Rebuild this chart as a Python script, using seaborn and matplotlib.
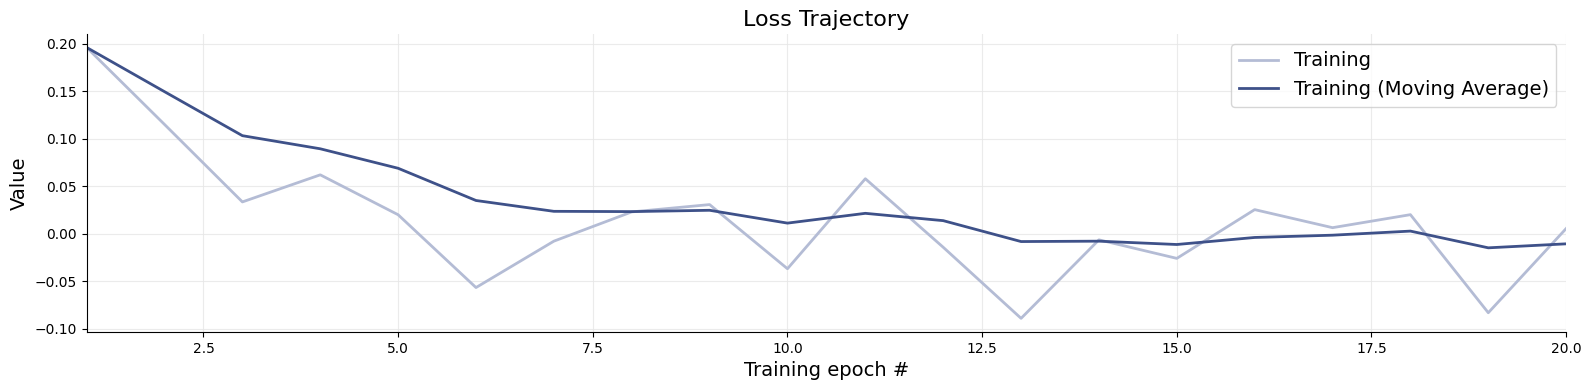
import matplotlib
matplotlib.use("Agg")
import matplotlib.pyplot as plt
import seaborn as sns
import pandas as pd

epochs = list(range(1, 21))
training = [0.196, 0.115, 0.0335, 0.062, 0.020, -0.0566, -0.0078, 0.023, 0.0307, -0.0368,
            0.0579, -0.0142, -0.089, -0.0064, -0.0259, 0.0254, 0.0064, 0.0201, -0.0831, 0.0055]
moving_avg = [0.196, 0.1495, 0.1032, 0.0894, 0.0689, 0.035, 0.0236, 0.0233, 0.0247, 0.0112,
              0.0215, 0.0138, -0.0082, -0.0078, -0.0113, -0.0039, -0.0015, 0.0028, -0.0148, -0.0106]

plt.rcParams['font.family'] = ['DejaVu Sans']

fig = plt.figure(figsize=(15.9, 3.9), dpi=100)
ax = fig.add_axes([0.0545, 0.149, 0.9305, 0.764])

df = pd.DataFrame({"epoch": epochs, "Training": training, "Training (Moving Average)": moving_avg})
sns.lineplot(data=df, x="epoch", y="Training", ax=ax, color="#b4bcd5", linewidth=2, label="Training")
sns.lineplot(data=df, x="epoch", y="Training (Moving Average)", ax=ax, color="#3e5189", linewidth=2,
             label="Training (Moving Average)")

ax.set_xlim(1, 20)
ax.grid(True, color="#e6e6e6", linewidth=0.8, alpha=0.8)
ax.set_axisbelow(True)
sns.despine(ax=ax)
ax.set_title("Loss Trajectory", fontsize=16)
ax.set_xlabel("Training epoch #", fontsize=14)
ax.set_ylabel("Value", fontsize=14)
ax.tick_params(labelsize=10)
ax.legend(loc="upper right", fontsize=14, frameon=True)

fig.savefig("out.png", dpi=100)
